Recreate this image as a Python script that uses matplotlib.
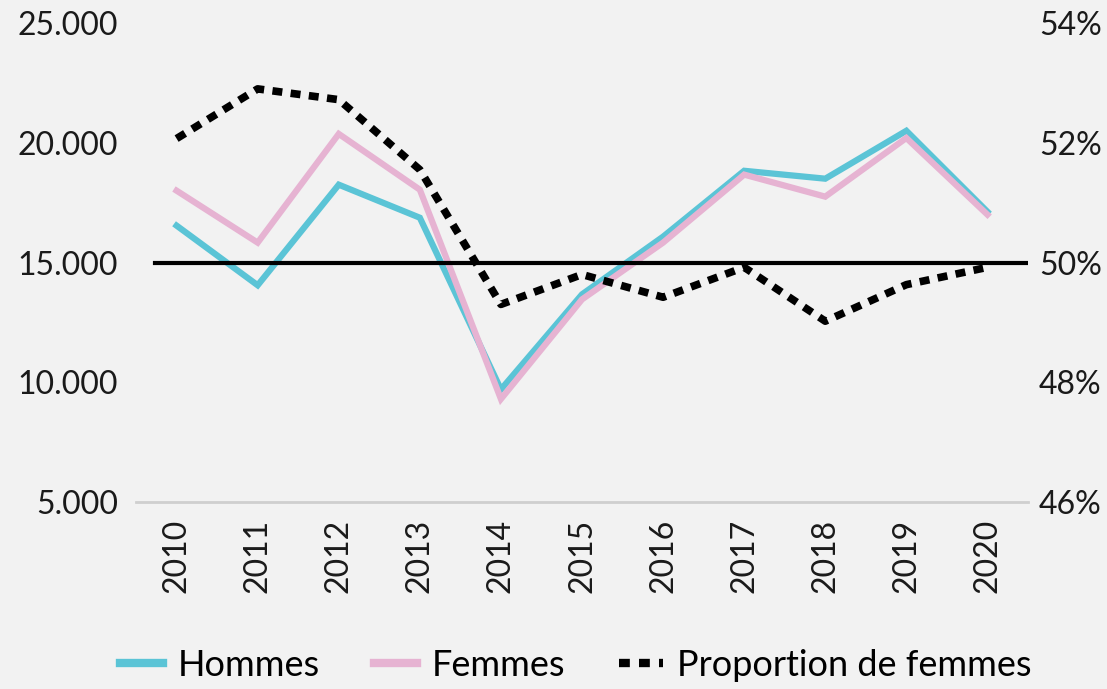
import matplotlib.pyplot as plt
from matplotlib.ticker import FuncFormatter

years = ["2010", "2011", "2012", "2013", "2014", "2015", "2016", "2017", "2018", "2019", "2020"]
hommes = [16540, 14050, 18250, 16870, 9700, 13670, 16080, 18830, 18500, 20500, 17120]
femmes = [18000, 15830, 20370, 18040, 9300, 13460, 15830, 18670, 17750, 20200, 17000]
proportion = [52.07, 52.9, 52.72, 51.55, 49.3, 49.8, 49.42, 49.92, 49.02, 49.63, 49.92]
reference = 15000

left_ticks = [5000, 10000, 15000, 20000, 25000]
right_ticks = [46, 48, 50, 52, 54]

bg = "#f2f2f2"
blue = "#5bc4d6"
pink = "#e6b3d2"

plt.rcParams['font.family'] = ['Lato', 'DejaVu Sans']

fig = plt.figure(figsize=(11.07, 6.89), dpi=100, facecolor=bg)
ax = fig.add_axes([0.1229, 0.2714, 0.8057, 0.6952])
ax.set_facecolor(bg)
x = list(range(len(years)))

l1, = ax.plot(x, hommes, color=blue, lw=4.5, solid_joinstyle='miter', label="Hommes", zorder=2)
l2, = ax.plot(x, femmes, color=pink, lw=4.5, solid_joinstyle='miter', label="Femmes", zorder=3)
ax.axhline(reference, xmin=0.021, xmax=1, color="black", lw=3, zorder=4)

ax.set_xlim(-0.5, len(years) - 0.5)
ax.set_ylim(5000, 25000)
ax.set_yticks(left_ticks)
ax.yaxis.set_major_formatter(FuncFormatter(lambda v, p: f"{int(v):,}".replace(",", ".")))
ax.set_xticks(x)
ax.set_xticklabels(years, rotation=90)
ax.tick_params(axis='both', length=0, labelsize=23, colors="#1a1a1a")
ax.tick_params(axis='x', pad=12)
ax.tick_params(axis='y', pad=13)
for s in ["top", "left", "right"]:
    ax.spines[s].set_visible(False)
ax.spines["bottom"].set_color("#cfcfcf")
ax.spines["bottom"].set_linewidth(2)

ax2 = ax.twinx()
l3, = ax2.plot(x, proportion, color="black", lw=5.5, linestyle=(0, (1.3, 1.1)),
               dash_capstyle='butt', label="Proportion de femmes", zorder=5)
ax2.set_ylim(46, 54)
ax2.set_yticks(right_ticks)
ax2.yaxis.set_major_formatter(FuncFormatter(lambda v, p: f"{int(round(v))}%"))
ax2.tick_params(axis='y', length=0, labelsize=23, colors="#1a1a1a", pad=8)
for s in ["top", "left", "right", "bottom"]:
    ax2.spines[s].set_visible(False)

leg = fig.legend(handles=[l1, l2, l3], loc="lower center", bbox_to_anchor=(0.52, -0.037),
                 ncol=3, frameon=False, fontsize=26, handlelength=1.2, handletextpad=0.4,
                 columnspacing=1.5)
for h in leg.legend_handles:
    h.set_linewidth(6)

fig.savefig("out.png", dpi=100, facecolor=bg)
